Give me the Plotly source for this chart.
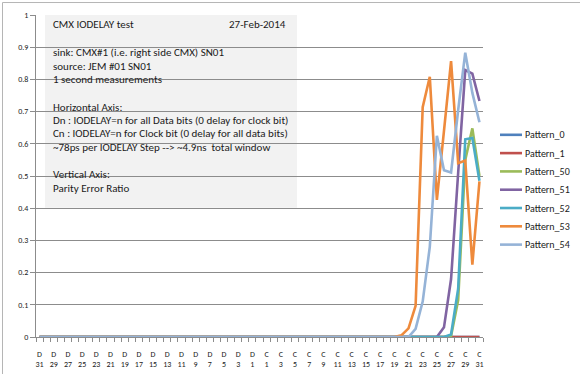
import plotly.graph_objects as go

# ---------------- data ----------------
categories = [
    "D31", "D30", "D29", "D28", "D27", "D26", "D25", "D24", "D23", "D22",
    "D21", "D20", "D19", "D18", "D17", "D16", "D15", "D14", "D13", "D12",
    "D11", "D10", "D9", "D8", "D7", "D6", "D5", "D4", "D3", "D2", "D1",
    "0",
    "C1", "C2", "C3", "C4", "C5", "C6", "C7", "C8", "C9", "C10",
    "C11", "C12", "C13", "C14", "C15", "C16", "C17", "C18", "C19", "C20",
    "C21", "C22", "C23", "C24", "C25", "C26", "C27", "C28", "C29", "C30", "C31",
]

pattern_0 = [
    0, 0, 0, 0, 0, 0, 0, 0, 0, 0,
    0, 0, 0, 0, 0, 0, 0, 0, 0, 0,
    0, 0, 0, 0, 0, 0, 0, 0, 0, 0,
    0, 0, 0, 0, 0, 0, 0, 0, 0, 0,
    0, 0, 0, 0, 0, 0, 0, 0, 0, 0,
    0, 0, 0, 0, 0, 0, 0, 0, 0, 0,
    0, 0, 0,
]
pattern_1 = [
    0, 0, 0, 0, 0, 0, 0, 0, 0, 0,
    0, 0, 0, 0, 0, 0, 0, 0, 0, 0,
    0, 0, 0, 0, 0, 0, 0, 0, 0, 0,
    0, 0, 0, 0, 0, 0, 0, 0, 0, 0,
    0, 0, 0, 0, 0, 0, 0, 0, 0, 0,
    0, 0, 0, 0, 0, 0, 0, 0, 0, 0,
    0, 0, 0,
]
pattern_50 = [
    0, 0, 0, 0, 0, 0, 0, 0, 0, 0,
    0, 0, 0, 0, 0, 0, 0, 0, 0, 0,
    0, 0, 0, 0, 0, 0, 0, 0, 0, 0,
    0, 0, 0, 0, 0, 0, 0, 0, 0, 0,
    0, 0, 0, 0, 0, 0, 0, 0, 0, 0,
    0,
    0, 0, 0, 0, 0, 0, 0, 0.003, 0.115, 0.550, 0.648, 0.500,
]
pattern_51 = [
    0, 0, 0, 0, 0, 0, 0, 0, 0, 0,
    0, 0, 0, 0, 0, 0, 0, 0, 0, 0,
    0, 0, 0, 0, 0, 0, 0, 0, 0, 0,
    0, 0, 0, 0, 0, 0, 0, 0, 0, 0,
    0, 0, 0, 0, 0, 0, 0, 0, 0, 0,
    0,
    0, 0, 0, 0, 0, 0, 0.030, 0.180, 0.510, 0.829, 0.818, 0.733,
]
pattern_52 = [
    0, 0, 0, 0, 0, 0, 0, 0, 0, 0,
    0, 0, 0, 0, 0, 0, 0, 0, 0, 0,
    0, 0, 0, 0, 0, 0, 0, 0, 0, 0,
    0, 0, 0, 0, 0, 0, 0, 0, 0, 0,
    0, 0, 0, 0, 0, 0, 0, 0, 0, 0,
    0,
    0, 0, 0, 0, 0, 0, 0, 0.008, 0.150, 0.614, 0.618, 0.485,
]
pattern_53 = [
    0, 0, 0, 0, 0, 0, 0, 0, 0, 0,
    0, 0, 0, 0, 0, 0, 0, 0, 0, 0,
    0, 0, 0, 0, 0, 0, 0, 0, 0, 0,
    0, 0, 0, 0, 0, 0, 0, 0, 0, 0,
    0, 0, 0, 0, 0, 0, 0, 0, 0, 0,
    0,
    0.005, 0.027, 0.097, 0.714, 0.808, 0.426, 0.640, 0.857, 0.540, 0.548, 0.225, 0.483,
]
pattern_54 = [
    0, 0, 0, 0, 0, 0, 0, 0, 0, 0,
    0, 0, 0, 0, 0, 0, 0, 0, 0, 0,
    0, 0, 0, 0, 0, 0, 0, 0, 0, 0,
    0, 0, 0, 0, 0, 0, 0, 0, 0, 0,
    0, 0, 0, 0, 0, 0, 0, 0, 0, 0,
    0,
    0, 0, 0.025, 0.110, 0.280, 0.625, 0.518, 0.511, 0.705, 0.883, 0.758, 0.667,
]

series_names = ["Pattern_0", "Pattern_1", "Pattern_50", "Pattern_51",
                "Pattern_52", "Pattern_53", "Pattern_54"]
series_values = [pattern_0, pattern_1, pattern_50, pattern_51,
                 pattern_52, pattern_53, pattern_54]
series_colors = ["#4F81BD", "#C0504D", "#9BBB59", "#8064A2",
                 "#4BACC6", "#EE8A3C", "#95B3D7"]

y_ticks = [0, 0.1, 0.2, 0.3, 0.4, 0.5, 0.6, 0.7, 0.8, 0.9, 1]
y_tick_labels = ["0", "0.1", "0.2", "0.3", "0.4", "0.5", "0.6", "0.7", "0.8", "0.9", "1"]

# x tick labels: every second category, letter above number
x_tick_labels = [(c[0] + "<br>" + c[1:]) if i % 2 == 0 else "" for i, c in enumerate(categories)]

title_line = "CMX IODELAY test"
date_text = "27-Feb-2014"
note_lines = [
    ("sink: CMX#1 (i.e. right side CMX) SN01", 53),
    ("source: JEM #01 SN01", 67),
    ("1 second measurements", 80),
    ("Horizontal Axis:", 108),
    ("Dn : IODELAY=n for all Data bits (0 delay for clock bit)", 120.5),
    ("Cn : IODELAY=n for Clock bit (0 delay for all data bits)", 134),
    ("~78ps per IODELAY Step --&gt; ~4.9ns&nbsp; total window", 148),
    ("Vertical Axis:", 175),
    ("Parity Error Ratio", 189),
]

# ---------------- layout helpers ----------------
W, H = 580, 374
PL, PR, PT, PB = 36, 483, 15, 337.5


def px(x):
    return (x - PL) / (PR - PL)


def py(y):
    return (PB - y) / (PB - PT)


FONT = "Carlito, Lato, sans-serif"
TXT = "#1a1a1a"
GRID = "#8c8c8c"

fig = go.Figure()
for name, vals, col in zip(series_names, series_values, series_colors):
    fig.add_trace(go.Scatter(
        x=categories, y=vals, name=name, mode="lines",
        line=dict(color=col, width=2.6), showlegend=False,
    ))

annotations = [
    dict(text=title_line, x=px(51), y=py(25), xref="paper", yref="paper",
         xanchor="left", yanchor="middle", showarrow=False,
         font=dict(family=FONT, size=11, color=TXT)),
    dict(text=date_text, x=px(227), y=py(25), xref="paper", yref="paper",
         xanchor="left", yanchor="middle", showarrow=False,
         font=dict(family=FONT, size=11, color=TXT)),
]
for txt, yy in note_lines:
    annotations.append(dict(text=txt, x=px(51), y=py(yy), xref="paper", yref="paper",
                            xanchor="left", yanchor="middle", showarrow=False,
                            font=dict(family=FONT, size=11, color=TXT)))

shapes = [
    dict(type="rect", xref="paper", yref="paper",
         x0=px(45), x1=px(297), y0=py(208), y1=py(15),
         fillcolor="#f2f2f2", line=dict(width=0), layer="between"),
    dict(type="rect", xref="paper", yref="paper",
         x0=px(2.5), x1=px(620), y0=py(420), y1=py(2.5),
         fillcolor="rgba(0,0,0,0)", line=dict(width=1, color="#b5b5b5"), layer="below"),
]

# legend (Excel style: short line sample, label to its right)
LEG_TOP, LEG_STEP = 135, 18.33
for i, (name, col) in enumerate(zip(series_names, series_colors)):
    yy = LEG_TOP + i * LEG_STEP
    shapes.append(dict(type="line", xref="paper", yref="paper",
                       x0=px(500), x1=px(522), y0=py(yy), y1=py(yy),
                       line=dict(color=col, width=2.6), layer="above"))
    annotations.append(dict(text=name, x=px(523), y=py(yy), xref="paper", yref="paper",
                            xanchor="left", yanchor="middle", showarrow=False,
                            font=dict(family=FONT, size=10, color=TXT)))

fig.update_layout(
    width=W, height=H,
    margin=dict(l=PL, r=W - PR, t=PT, b=H - PB, pad=0),
    paper_bgcolor="white", plot_bgcolor="white",
    font=dict(family=FONT, size=8, color=TXT),
    showlegend=False,
    xaxis=dict(
        type="category", categoryorder="array", categoryarray=categories,
        range=[-0.5, len(categories) - 0.5],
        tickmode="array", tickvals=categories, ticktext=x_tick_labels,
        tickson="boundaries", ticks="outside", ticklen=4, tickcolor=GRID, tickwidth=1,
        showline=True, linecolor=GRID, linewidth=1, showgrid=False,
        tickangle=0, tickfont=dict(family=FONT, size=8, color=TXT),
        ticklabelstandoff=9,
        layer="below traces", fixedrange=True, automargin=False,
    ),
    yaxis=dict(
        range=[0, 1], tickmode="array", tickvals=y_ticks, ticktext=y_tick_labels,
        ticks="outside", ticklen=5, tickcolor=GRID, tickwidth=1,
        showline=True, linecolor=GRID, linewidth=1,
        showgrid=True, gridcolor=GRID, gridwidth=1, zeroline=False,
        tickfont=dict(family=FONT, size=8, color=TXT),
        layer="below traces", fixedrange=True, automargin=False,
    ),
    shapes=shapes,
    annotations=annotations,
)

fig.write_html(
    "out.html",
    config={"displayModeBar": False},
    post_script="document.body.style.margin='0';document.body.style.overflow='hidden';",
)
